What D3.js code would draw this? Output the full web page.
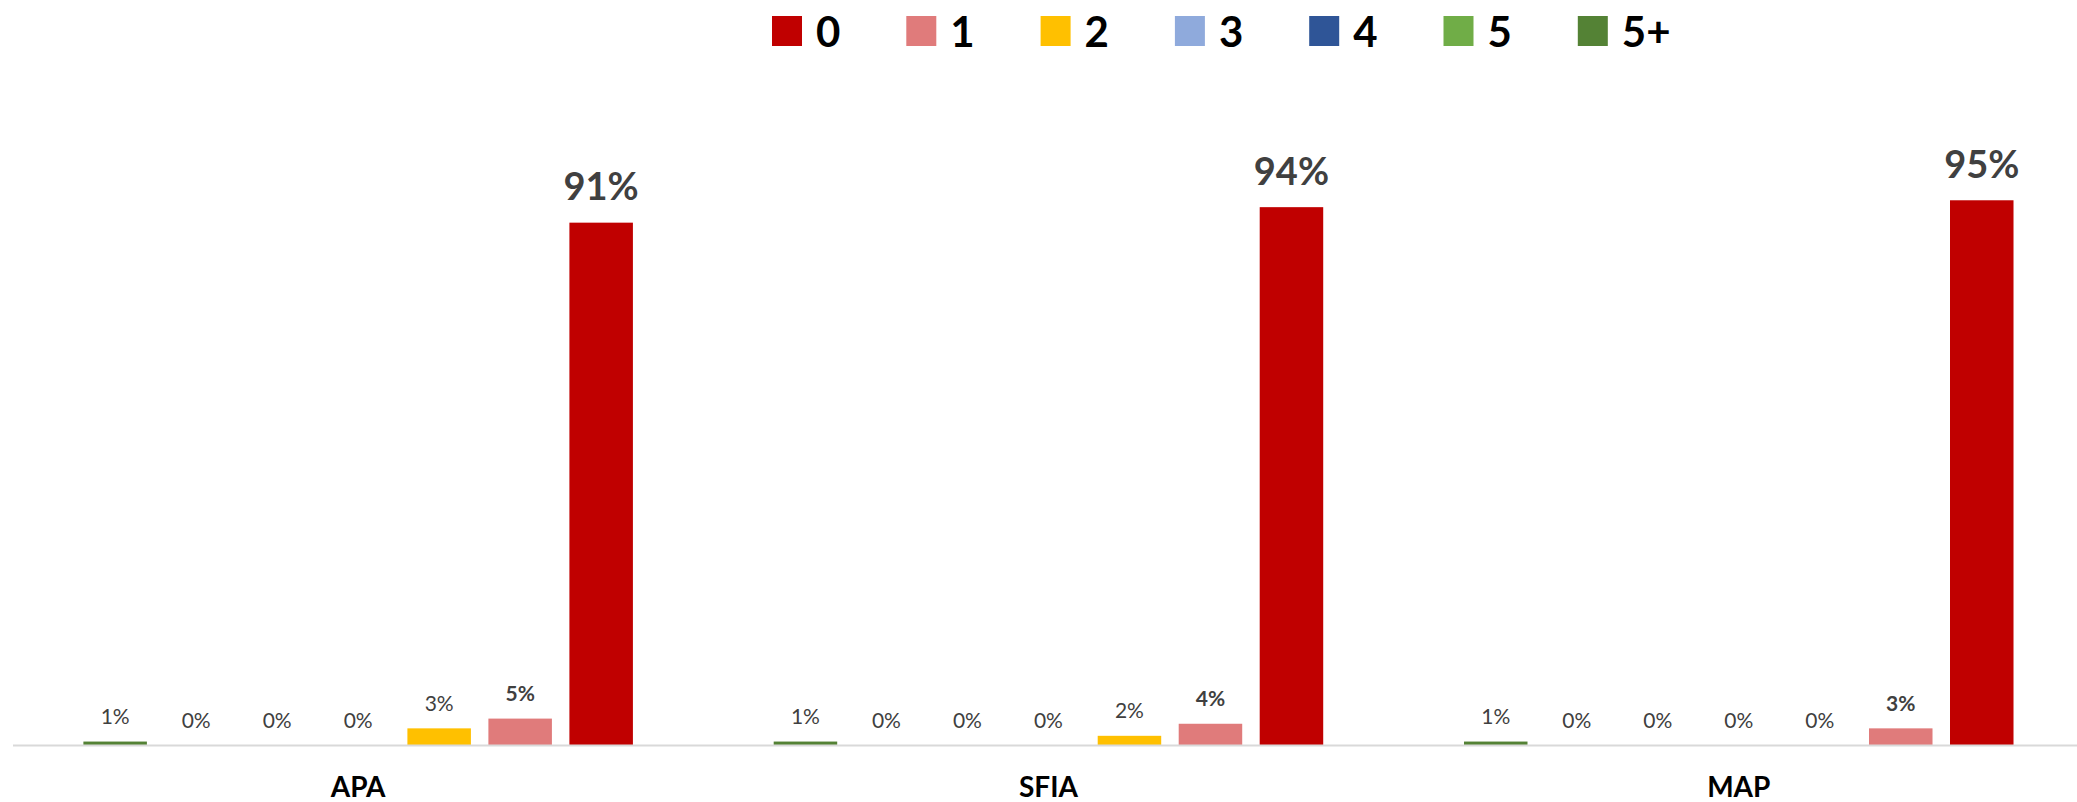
<!DOCTYPE html>
<html>
<head>
<meta charset="utf-8">
<script src="https://cdn.jsdelivr.net/npm/d3@7"></script>
<style>
  html, body { margin: 0; padding: 0; background: #fff; }
  svg { display: block; font-family: Lato, 'Open Sans', sans-serif; }
  .lbl { fill: #404040; }
</style>
</head>
<body>
<div id="chart"></div>
<script>
'use strict';

const W = 2077;
const H = 802;

// categories along the axis
const categories = ['APA', 'SFIA', 'MAP'];

// series names (legend order) and colours
const seriesNames = ['0', '1', '2', '3', '4', '5', '5+'];
const seriesColors = ['#C00000', '#E07B7B', '#FFC000', '#8FAADC', '#2F5597', '#70AD47', '#548235'];

// bar order inside each group (left to right)
const barOrder = ['5+', '5', '4', '3', '2', '1', '0'];

// share of answers per series, one value per category (APA, SFIA, MAP)
const s0 = [0.910, 0.937, 0.949];
const s1 = [0.046, 0.037, 0.029];
const s2 = [0.029, 0.016, 0.000];
const s3 = [0.000, 0.000, 0.000];
const s4 = [0.000, 0.000, 0.000];
const s5 = [0.000, 0.000, 0.000];
const s5plus = [0.006, 0.006, 0.006];

const seriesValues = [s0, s1, s2, s3, s4, s5, s5plus];

window.onload = function () {
  drawChart();
};

function drawChart() {
  const svg = d3.select('#chart').append('svg')
    .attr('width', W)
    .attr('height', H);

  const baseY = 745;

  const x0 = d3.scaleBand()
    .domain(categories)
    .range([13, 13 + 3 * 690.3])
    .padding(0);

  const x1 = d3.scaleBand()
    .domain(barOrder)
    .range([0, x0.bandwidth()])
    .paddingInner(0.216)
    .paddingOuter(0.869);

  const y = d3.scaleLinear()
    .domain([0, 1])
    .range([baseY, baseY - 574]);

  const color = d3.scaleOrdinal()
    .domain(seriesNames)
    .range(seriesColors);

  const pct = d3.format('.0%');

  // flatten to one record per bar
  const rows = [];
  categories.forEach(function (c, ci) {
    seriesNames.forEach(function (s, si) {
      rows.push({ cat: c, series: s, value: seriesValues[si][ci] });
    });
  });

  const groups = svg.append('g').attr('id', 'bars')
    .selectAll('g')
    .data(categories)
    .enter().append('g')
      .attr('transform', function (d) { return 'translate(' + x0(d) + ',0)'; });

  groups.selectAll('rect')
      .data(function (c) { return rows.filter(function (r) { return r.cat === c; }); })
    .enter().append('rect')
      .attr('x', function (d) { return x1(d.series); })
      .attr('width', x1.bandwidth())
      .attr('y', function (d) { return y(d.value); })
      .attr('height', function (d) { return baseY - y(d.value); })
      .attr('fill', function (d) { return color(d.series); });

  // data labels
  groups.selectAll('text')
      .data(function (c) { return rows.filter(function (r) { return r.cat === c; }); })
    .enter().append('text')
      .classed('lbl', true)
      .attr('x', function (d) { return x1(d.series) + x1.bandwidth() / 2; })
      .attr('y', function (d) { return y(d.value) - (d.series === '0' ? 22.5 : 17.5); })
      .attr('text-anchor', 'middle')
      .style('font-size', function (d) { return d.series === '0' ? '38px' : '21px'; })
      .style('font-weight', function (d) { return (d.series === '0' || d.series === '1') ? 'bold' : 'normal'; })
      .text(function (d) { return pct(d.value); });

  // category axis
  const axis = svg.append('g')
    .attr('transform', 'translate(0,' + baseY + ')')
    .call(d3.axisBottom(x0).tickSize(0).tickPadding(32));

  axis.select('.domain')
    .attr('stroke', '#d9d9d9')
    .attr('stroke-width', 2)
    .attr('d', 'M13,0.5H' + W);

  axis.selectAll('text')
    .attr('fill', '#000')
    .style('font-family', 'Lato, sans-serif')
    .style('font-size', '28px')
    .style('font-weight', 'bold');

  drawLegend(svg, color);
}

function drawLegend(svg, color) {
  const lx = d3.scalePoint()
    .domain(seriesNames)
    .range([772, 772 + 6 * 134.3]);

  const items = svg.append('g').attr('id', 'legend')
    .selectAll('g')
    .data(seriesNames)
    .enter().append('g')
      .attr('transform', function (d) { return 'translate(' + lx(d) + ',16)'; });

  items.append('rect')
    .attr('width', 30)
    .attr('height', 30)
    .attr('fill', function (d) { return color(d); });

  items.append('text')
    .attr('x', 44)
    .attr('y', 31)
    .style('font-size', '42px')
    .style('font-weight', 'bold')
    .attr('fill', '#000')
    .text(function (d) { return d; });
}
</script>
</body>
</html>
